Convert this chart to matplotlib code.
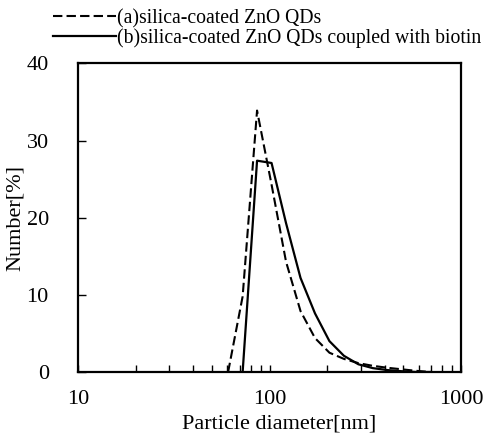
"""Particle size distribution of silica-coated ZnO QDs."""
import matplotlib
matplotlib.use('Agg')
from matplotlib import pyplot as plt
from matplotlib.ticker import LogLocator, NullFormatter, FixedLocator, FixedFormatter

plt.rcParams['font.family'] = ['Liberation Serif', 'DejaVu Serif']
plt.rcParams['mathtext.fontset'] = 'stix'

# size bins [nm]
diameter = [60.8, 72.4, 86.1, 102.5, 122.0, 145.2, 172.8, 205.6, 244.7,
            291.2, 346.5, 412.3, 490.7, 583.9, 694.9]
# (a) silica-coated ZnO QDs
number_a = [0.0, 9.8, 33.9, 24.3, 14.3, 7.9, 4.4, 2.5, 1.7,
            1.15, 0.8, 0.55, 0.35, 0.15, 0.0]
# (b) coupled with biotin
number_b = [None, 0.0, 27.4, 27.1, 19.3, 12.2, 7.6, 4.0, 2.1,
            1.0, 0.5, 0.25, 0.1, 0.0, 0.0]
labels = ['(a)silica-coated ZnO QDs',
          '(b)silica-coated ZnO QDs coupled with biotin']
xticks = [10, 100, 1000]
yticks = [0, 10, 20, 30, 40]

fig = plt.figure(figsize=(4.84, 4.36), dpi=100)
ax = fig.add_axes([78 / 484, 1 - 372 / 436, 383 / 484, 308.5 / 436])

xb = [d for d, n in zip(diameter, number_b) if n is not None]
yb = [n for n in number_b if n is not None]
ax.plot(diameter, number_a, color='black', lw=1.5, ls=(0, (4.5, 2)), label=labels[0])
ax.plot(xb, yb, color='black', lw=1.6, label=labels[1])

ax.set_xscale('log')
ax.set_xlim(10, 1000)
ax.set_ylim(0, 40)
ax.xaxis.set_major_locator(FixedLocator(xticks))
ax.xaxis.set_major_formatter(FixedFormatter([str(t) for t in xticks]))
ax.xaxis.set_minor_locator(LogLocator(base=10, subs=range(2, 10)))
ax.xaxis.set_minor_formatter(NullFormatter())
ax.set_yticks(yticks)

ax.tick_params(axis='both', which='both', direction='in', labelsize=16,
               width=1.0, top=False, right=False)
ax.tick_params(axis='x', which='major', length=5, pad=13)
ax.tick_params(axis='x', which='minor', length=5)
ax.tick_params(axis='y', which='major', length=6, pad=21)
for side in ax.spines.values():
    side.set_linewidth(1.6)

ax.set_xlabel('Particle diameter[nm]', fontsize=16)
ax.xaxis.set_label_coords(0.525, -0.137)
ax.set_ylabel('Number[%]', fontsize=16)
ax.yaxis.set_label_coords(-0.14, 0.5)

fig.legend(loc='upper left', bbox_to_anchor=(43 / 484, 1 + 1 / 436), frameon=False,
           fontsize=14.2, handlelength=3.2, handletextpad=0.05, labelspacing=0.0,
           borderpad=0.0)

fig.savefig('out.png', dpi=100)
